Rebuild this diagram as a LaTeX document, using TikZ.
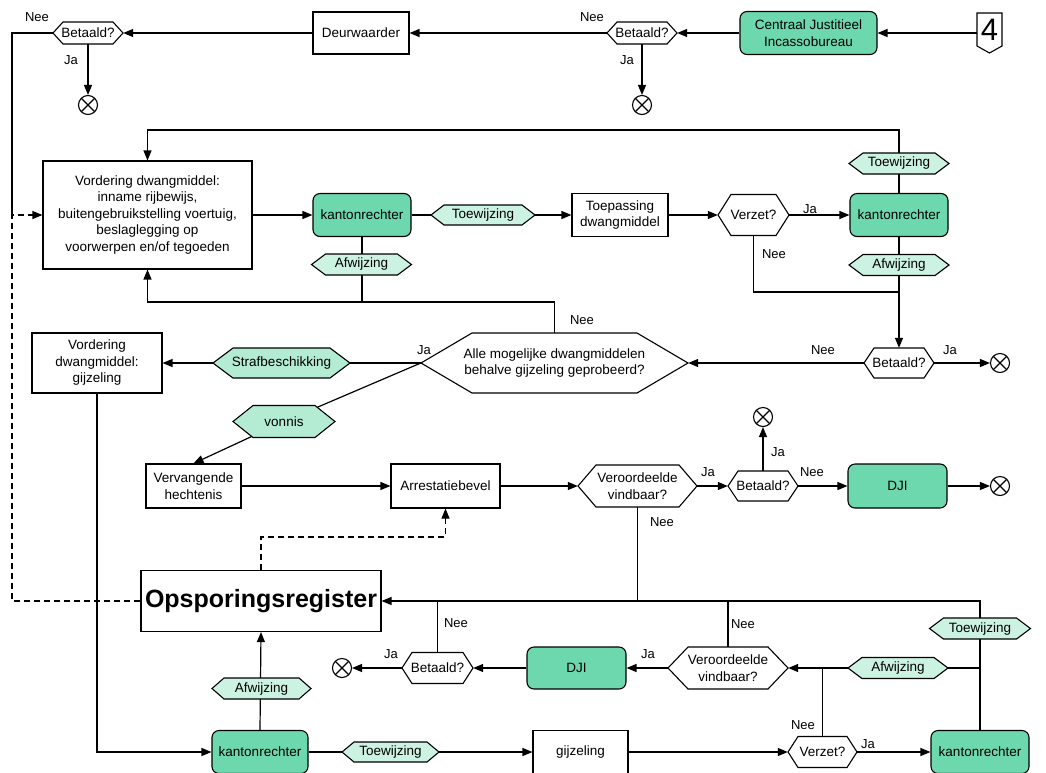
\documentclass[tikz,border=0pt]{standalone}
\usepackage{fontspec}
\setmainfont{Liberation Sans}
\usetikzlibrary{arrows.meta}
\definecolor{gfill}{HTML}{6DD8AD}
\definecolor{hfill}{HTML}{CCF2E2}
\definecolor{sfill}{HTML}{B3EBD3}
\pgfdeclarelayer{conn}
\pgfsetlayers{conn,main}
% name, x, y, half width, half height, inset, fill, text
\newcommand\hexnode[8]{%
  \filldraw[hexline, fill=#7] (#2-#4,#3) -- (#2-#4+#6,#3-#5) -- (#2+#4-#6,#3-#5) -- (#2+#4,#3) -- (#2+#4-#6,#3+#5) -- (#2-#4+#6,#3+#5) -- cycle;
  \node[hextext, minimum width=2*#4, minimum height=2*#5] (#1) at (#2,#3) {#8};
}
\tikzset{
  basefont/.style={font=\fontsize{13.5}{16.5}\selectfont},
  box/.style={draw, fill=white, line width=1.1pt, align=center, inner sep=1pt, basefont},
  gbox/.style={box, fill=gfill, rounded corners=7pt},
  hexline/.style={line width=1.1pt},
  hextext/.style={draw=none, fill=none, align=center, inner sep=0pt, basefont},
  lbl/.style={inner sep=0pt, font=\fontsize{13}{15}\selectfont},
  endx/.style={circle, draw, line width=1.1pt, fill=white, minimum size=19pt, inner sep=0pt,
    path picture={\draw[line width=1.1pt] (path picture bounding box.north west) -- (path picture bounding box.south east)
      (path picture bounding box.north east) -- (path picture bounding box.south west);}},
  conn/.style={line width=1.2pt},
  arr/.style={conn, -{Triangle[length=10pt,width=8pt]}},
  dashl/.style={line width=1.1pt, dash pattern=on 6pt off 4pt},
}
\begin{document}
\begin{tikzpicture}[x=1pt,y=-1pt]
\useasboundingbox (0,0) rectangle (1046,772);

% ---------- top row ----------
\draw[line width=1.1pt, fill=white] (977,13) -- (1002,13) -- (1002,46) -- (989.5,53) -- (977,46) -- cycle;
\node[inner sep=0pt, minimum width=25pt, minimum height=40pt, font=\fontsize{31}{31}\selectfont] (four) at (989.5,33) {\raisebox{4pt}[22pt][0pt]{4}};
\node[gbox, minimum width=137pt, minimum height=43pt] (cji) at (808.5,33) {Centraal Justitieel\\Incassobureau};
\hexnode{bet2}{642}{33}{35}{11}{10}{white}{Betaald?}
\node[box, minimum width=96pt, minimum height=42pt] (deur) at (361,33) {Deurwaarder};
\hexnode{bet1}{88}{33}{35}{11}{10}{white}{Betaald?}
\node[endx] (end1) at (88,105) {};
\node[endx] (end2) at (642,105) {};
\node[lbl] (l1) at (37,17) {Nee};
\node[lbl] (l2) at (71,60) {Ja};
\node[lbl] (l3) at (592,17) {Nee};
\node[lbl] (l4) at (627,60) {Ja};

% ---------- second row ----------
\node[box, minimum width=209pt, minimum height=108pt] (vord1) at (147.5,215)
  {Vordering dwangmiddel:\\inname rijbewijs,\\buitengebruikstelling voertuig,\\beslaglegging op\\voorwerpen en/of tegoeden};
\node[gbox, minimum width=98pt, minimum height=43pt] (k1) at (362,215) {kantonrechter};
\hexnode{toew1}{483}{215}{52}{10}{13}{hfill}{Toewijzing}
\node[box, minimum width=96pt, minimum height=43pt] (toep) at (620,215) {Toepassing\\dwangmiddel};
\hexnode{verz1}{753.5}{215}{35.5}{20.5}{13}{white}{Verzet?}
\node[gbox, minimum width=98pt, minimum height=43pt] (k2) at (899,215) {kantonrechter};
\hexnode{toew2}{899}{163.5}{50}{10.5}{14}{hfill}{Toewijzing}
\hexnode{afw2}{899}{265}{50}{10.5}{14}{hfill}{Afwijzing}
\hexnode{afw1}{361.5}{264.5}{50}{10.5}{14}{hfill}{Afwijzing}
\node[lbl] (l5) at (810,209) {Ja};
\node[lbl] (l6) at (774,254) {Nee};
\node[lbl] (l7) at (582,320) {Nee};

% ---------- third row ----------
\hexnode{alle}{554.5}{363}{133.5}{30}{51}{white}{Alle mogelijke dwangmiddelen\\behalve gijzeling geprobeerd?}
\hexnode{bet3}{899}{363}{35}{15}{10}{white}{Betaald?}
\node[endx] (end3) at (1000,363) {};
\hexnode{straf}{281.5}{363}{68.5}{15}{20}{sfill}{Strafbeschikking}
\node[box, minimum width=130pt, minimum height=60pt] (vord2) at (97,363) {Vordering\\dwangmiddel:\\gijzeling};
\hexnode{vonnis}{284}{421.5}{51}{16}{20}{sfill}{vonnis}
\node[lbl] (l8) at (424,350) {Ja};
\node[lbl] (l9) at (823,350) {Nee};
\node[lbl] (l10) at (950,350) {Ja};

% ---------- fourth row ----------
\node[box, minimum width=95pt, minimum height=44pt] (verv) at (193.5,486) {Vervangende\\hechtenis};
\node[box, minimum width=109pt, minimum height=44pt] (arrb) at (445.5,486) {Arrestatiebevel};
\hexnode{ver1}{637.5}{486}{59.5}{21}{18}{white}{Veroordeelde\\vindbaar?}
\hexnode{bet4}{763}{486}{35}{15}{10}{white}{Betaald?}
\node[endx] (end4) at (763,417) {};
\node[gbox, minimum width=99pt, minimum height=44pt] (dji1) at (897.5,486) {DJI};
\node[endx] (end5) at (1000,486) {};
\node[lbl] (l11) at (708,472) {Ja};
\node[lbl] (l12) at (778,452) {Ja};
\node[lbl] (l13) at (812,472) {Nee};
\node[lbl] (l14) at (662,522) {Nee};

% ---------- lower part ----------
\node[box, minimum width=240pt, minimum height=61pt, font=\fontsize{25}{28}\selectfont\bfseries] (ops) at (261,601) {Opsporingsregister};
\hexnode{afw3}{261.5}{688.5}{49.5}{10.5}{12}{hfill}{Afwijzing}
\node[gbox, minimum width=96pt, minimum height=43pt] (k3) at (260,752) {kantonrechter};
\hexnode{toew3}{390.5}{752}{48.5}{10}{12}{hfill}{Toewijzing}
\node[box, minimum width=95pt, minimum height=43pt] (gijz) at (580.5,752) {gijzeling};
\hexnode{verz2}{822.5}{752}{34.5}{15.5}{10}{white}{Verzet?}
\node[gbox, minimum width=98pt, minimum height=43pt] (k4) at (980,752) {kantonrechter};
\hexnode{toew4}{980}{628.5}{50.5}{10.5}{14}{hfill}{Toewijzing}
\hexnode{afw4}{898}{668}{50}{10.5}{14}{hfill}{Afwijzing}
\hexnode{ver2}{728}{668}{60}{21}{20}{white}{Veroordeelde\\vindbaar?}
\node[gbox, minimum width=99pt, minimum height=42pt] (dji2) at (576.5,668) {DJI};
\hexnode{bet5}{437.5}{668}{35.5}{15.5}{10}{white}{Betaald?}
\node[endx] (end6) at (342,668) {};
\node[lbl] (l15) at (456,623) {Nee};
\node[lbl] (l16) at (391,654) {Ja};
\node[lbl] (l17) at (648,654) {Ja};
\node[lbl] (l18) at (743,624) {Nee};
\node[lbl] (l19) at (803,725) {Nee};
\node[lbl] (l20) at (868,744) {Ja};

% ---------- helper coordinates ----------
\coordinate (lx) at (12,215);
\coordinate (topc) at (899,130);
\coordinate (botc) at (147.5,302);
\coordinate (nc) at (899,292);
\coordinate (rj) at (980,601);
\coordinate (bj) at (980,668);

% ---------- connectors ----------
\begin{pgfonlayer}{conn}
\draw[arr] (four.west) -- (four.west -| cji.east);
\draw[arr] (cji.west) -- (bet2.east);
\draw[arr] (bet2.west) -- (deur.east);
\draw[arr] (deur.west) -- (bet1.east);
\draw[arr] (bet1.south) -- (end1.north);
\draw[arr] (bet2.south) -- (end2.north);
\draw[conn] (bet1.west) -| (lx);
\draw[dashl, -{Triangle[length=10pt,width=8pt]}] (ops.west) -| (lx) -- (vord1.west);
\draw[arr] (vord1.east) -- (k1.west);
\draw[arr] (k1.east) -- (toep.west);
\draw[arr] (toep.east) -- (verz1.west);
\draw[arr] (verz1.east) -- (k2.west);
\draw[arr] (k2.north) -- (topc) -| (vord1.north);
\draw[arr] (alle.north) |- (botc) -- (vord1.south);
\draw[conn] (k1.south) -- (k1.south |- botc);
\draw[conn] (verz1.south) |- (nc);
\draw[arr] (k2.south) -- (bet3.north);
\draw[arr] (bet3.west) -- (alle.east);
\draw[arr] (bet3.east) -- (end3.west);
\draw[arr] (alle.west) -- (vord2.east);
\draw[conn] (alle.west) -- (vonnis.center);
\draw[arr] (vonnis.center) -- (verv.north);
\draw[arr] (verv.east) -- (arrb.west);
\draw[arr] (arrb.east) -- (ver1.west);
\draw[arr] (ver1.east) -- (bet4.west);
\draw[arr] (bet4.north) -- (end4.south);
\draw[arr] (bet4.east) -- (dji1.west);
\draw[arr] (dji1.east) -- (end5.west);
\draw[dashl, -{Triangle[length=10pt,width=8pt]}] (ops.north) -- ++(0,-33) -| (arrb.south);
\draw[arr] (k4.north) -- (rj) -- (ops.east);
\draw[conn] (ver1.south) -- (ver1.south |- rj);
\draw[conn] (ver2.north) -- (ver2.north |- rj);
\draw[conn] (bet5.north) -- (bet5.north |- rj);
\draw[arr] (bj) -- (ver2.east);
\draw[conn] (verz2.north) -- (verz2.north |- bj);
\draw[arr] (ver2.west) -- (dji2.east);
\draw[arr] (dji2.west) -- (bet5.east);
\draw[arr] (bet5.west) -- (end6.east);
\draw[arr] (vord2.south) |- (k3.west);
\draw[arr] (k3.north) -- (ops.south);
\draw[arr] (k3.east) -- (gijz.west);
\draw[arr] (gijz.east) -- (verz2.west);
\draw[arr] (verz2.east) -- (k4.west);
\end{pgfonlayer}
\end{tikzpicture}
\end{document}
